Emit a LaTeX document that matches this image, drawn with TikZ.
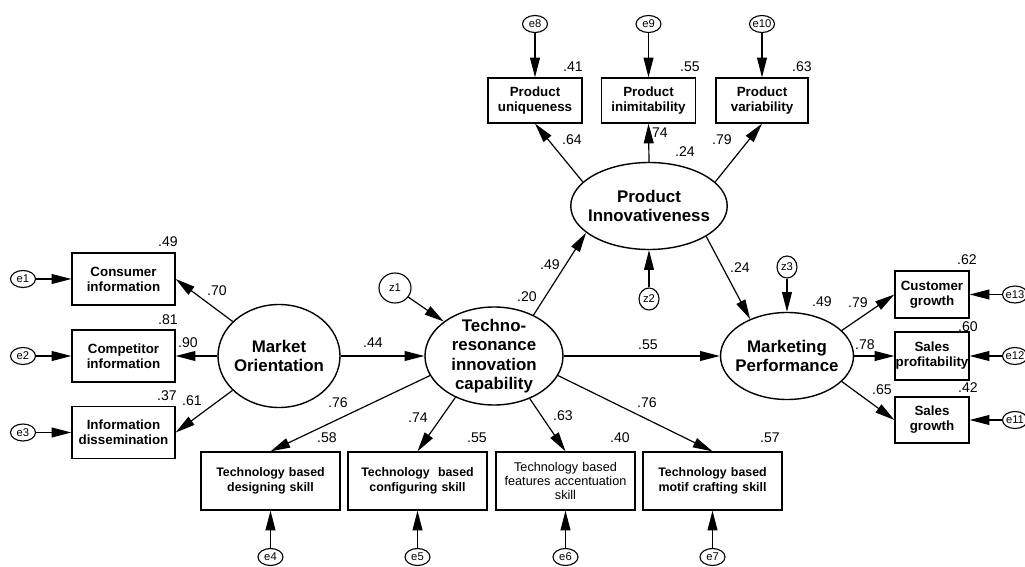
\documentclass[tikz,border=0pt]{standalone}
\usepackage{fontspec}
\setmainfont{Liberation Sans}
\usepackage{tikz}
\usetikzlibrary{shapes,arrows.meta}

\begin{document}
\begin{tikzpicture}
\tikzstyle{latent} = [ellipse,draw,line width=1pt,inner xsep=-4pt,inner ysep=-3pt,align=center,font=\fontsize{12}{13.9}\selectfont\bfseries];
\tikzstyle{obs} = [rectangle,draw,line width=0.9pt,inner sep=0pt,align=center,font=\fontsize{9.5}{10.7}\selectfont\bfseries];
\tikzstyle{skill} = [obs,text width=3.475cm,minimum height=1.45cm,font=\fontsize{8.8}{10.7}\selectfont\bfseries];
\tikzstyle{err} = [ellipse,draw,line width=0.8pt,inner xsep=-1pt,inner ysep=0pt,minimum width=0.625cm,minimum height=0.425cm,font=\fontsize{8}{9}\selectfont];
\tikzstyle{link} = [draw,line width=0.85pt,-{Triangle[length=14pt,width=7pt]}];
\tikzstyle{coef} = [inner sep=0pt,font=\fontsize{10}{11}\selectfont];

\useasboundingbox (0,0) rectangle (25.625,-14.175);

% latent variables
\node [latent,minimum width=3.05cm,minimum height=2.575cm] (MO) at (6.975,-8.9) {Market\\Orientation};
\node [latent,minimum width=3.45cm,minimum height=2.45cm] (TRIC) at (12.35,-8.9) {Techno-\\resonance\\innovation\\capability};
\node [latent,minimum width=3.9cm,minimum height=2.175cm] (PI) at (16.225,-5.15) {Product\\Innovativeness};
\node [latent,minimum width=3.325cm,minimum height=2.175cm] (MP) at (19.675,-8.9) {Marketing\\Performance};

\node [err,minimum width=0.8cm,minimum height=0.75cm] (z1) at (9.875,-7.2) {z1};
\node [err,minimum width=0.5cm,minimum height=0.55cm] (z2) at (16.225,-7.475) {z2};
\node [err,minimum width=0.5cm,minimum height=0.55cm] (z3) at (19.675,-6.675) {z3};

% market orientation items
\node [obs,text width=2.575cm,minimum height=1.3cm] (ci) at (3.0875,-6.975) {Consumer\\information};
\node [obs,text width=2.575cm,minimum height=1.3cm] (cpi) at (3.0875,-8.9) {Competitor\\information};
\node [obs,text width=2.575cm,minimum height=1.3cm] (ids) at (3.0875,-10.8125) {Information\\dissemination};
\node [err] (e1) at (0.575,-6.975) {e1};
\node [err] (e2) at (0.575,-8.9) {e2};
\node [err] (e3) at (0.575,-10.8125) {e3};

% techno-resonance items
\node [skill] (dsk) at (6.7625,-12.025) {Technology based\\designing skill};
\node [skill] (csk) at (10.4375,-12.025) {Technology\ \ based\\configuring skill};
\node [skill,font=\fontsize{9}{10}\selectfont] (fsk) at (14.1375,-12.025) {Technology based\\features accentuation\\skill};
\node [skill] (msk) at (17.8125,-12.025) {Technology based\\motif crafting skill};
\node [err] (e4) at (6.7625,-13.925) {e4};
\node [err] (e5) at (10.4375,-13.925) {e5};
\node [err] (e6) at (14.1375,-13.925) {e6};
\node [err] (e7) at (17.8125,-13.925) {e7};

% product innovativeness items
\node [obs,text width=2.35cm,minimum height=1.125cm] (pu) at (13.375,-2.5125) {Product\\uniqueness};
\node [obs,text width=2.35cm,minimum height=1.125cm] (pim) at (16.2125,-2.5125) {Product\\inimitability};
\node [obs,text width=2.3cm,minimum height=1.125cm] (pv) at (19.05,-2.5125) {Product\\variability};
\node [err] (e8) at (13.375,-0.6) {e8};
\node [err] (e9) at (16.2125,-0.6) {e9};
\node [err] (e10) at (19.05,-0.6) {e10};

% marketing performance items
\node [obs,text width=1.85cm,minimum height=1.175cm] (cg) at (23.3,-7.3625) {Customer\\growth};
\node [obs,text width=1.85cm,minimum height=1.2cm] (sp) at (23.3,-8.9) {Sales\\profitability};
\node [obs,text width=1.85cm,minimum height=1.15cm] (sg) at (23.3,-10.5) {Sales\\growth};
\node [err] (e13) at (25.375,-7.3625) {e13};
\node [err] (e12) at (25.375,-8.9) {e12};
\node [err] (e11) at (25.375,-10.5) {e11};

% paths
\draw [link] (MO) -- (ci.east);
\draw [link] (MO) -- (cpi.east);
\draw [link] (MO) -- (ids.east);
\draw [link] (e1) -- (ci);
\draw [link] (e2) -- (cpi);
\draw [link] (e3) -- (ids);
\draw [link] (MO) -- (TRIC);
\draw [link] (z1) -- (TRIC);
\draw [link] (TRIC.-163) -- (dsk.north);
\draw [link] (TRIC.-133) -- (csk.north);
\draw [link] (TRIC.-50) -- (fsk.north);
\draw [link] (TRIC.-17) -- (msk.north);
\draw [link] (e4) -- (dsk);
\draw [link] (e5) -- (csk);
\draw [link] (e6) -- (fsk);
\draw [link] (e7) -- (msk);
\draw [link] (TRIC.46) -- (PI.203);
\draw [link] (TRIC) -- (MP);
\draw [link] (z2) -- (PI);
\draw [link] (PI.160) -- (pu.south);
\draw [link] (PI.north) -- (pim.south);
\draw [link] (PI.20) -- (pv.south);
\draw [link] (e8) -- (pu);
\draw [link] (e9) -- (pim);
\draw [link] (e10) -- (pv);
\draw [link] (PI.-28) -- (MP.135);
\draw [link] (z3) -- (MP);
\draw [link] (MP.25) -- (cg.west);
\draw [link] (MP) -- (sp.west);
\draw [link] (MP.-25) -- (sg.west);
\draw [link] (e13) -- (cg);
\draw [link] (e12) -- (sp);
\draw [link] (e11) -- (sg);

% estimates
\node [coef] (rci) at (4.2,-6.05) {.49};
\node [coef] (rcpi) at (4.2,-8.0) {.81};
\node [coef] (rids) at (4.175,-9.9) {.37};
\node [coef] (wci) at (5.425,-7.275) {.70};
\node [coef] (wcpi) at (4.7,-8.575) {.90};
\node [coef] (wids) at (4.8,-10.025) {.61};
\node [coef] (wmo) at (9.325,-8.575) {.44};
\node [coef] (rtric) at (13.175,-7.425) {.20};
\node [coef] (wpi) at (13.75,-6.625) {.49};
\node [coef] (wdsk) at (8.45,-10.075) {.76};
\node [coef] (rdsk) at (8.175,-10.95) {.58};
\node [coef] (wcsk) at (10.45,-10.45) {.74};
\node [coef] (rcsk) at (11.925,-10.95) {.55};
\node [coef] (wfsk) at (14.075,-10.4) {.63};
\node [coef] (rfsk) at (15.5,-10.95) {.40};
\node [coef] (wmsk) at (16.175,-10.075) {.76};
\node [coef] (rmsk) at (19.25,-10.95) {.57};
\node [coef] (wtm) at (16.2,-8.625) {.55};
\node [coef] (wpu) at (14.3,-3.5) {.64};
\node [coef] (wpim) at (16.45,-3.325) {.74};
\node [coef] (rpi) at (17.125,-3.8) {.24};
\node [coef] (wpv) at (18.05,-3.5) {.79};
\node [coef] (rpu) at (14.325,-1.675) {.41};
\node [coef] (rpim) at (17.25,-1.675) {.55};
\node [coef] (rpv) at (20.05,-1.675) {.63};
\node [coef] (wpm) at (18.5,-6.7) {.24};
\node [coef] (rmp) at (20.55,-7.55) {.49};
\node [coef] (wcg) at (21.45,-7.575) {.79};
\node [coef] (wsp) at (21.625,-8.625) {.78};
\node [coef] (wsg) at (22.05,-9.75) {.65};
\node [coef] (rcg) at (24.175,-6.5) {.62};
\node [coef] (rsp) at (24.2,-8.175) {.60};
\node [coef] (rsg) at (24.2,-9.7) {.42};
\end{tikzpicture}
\end{document}
